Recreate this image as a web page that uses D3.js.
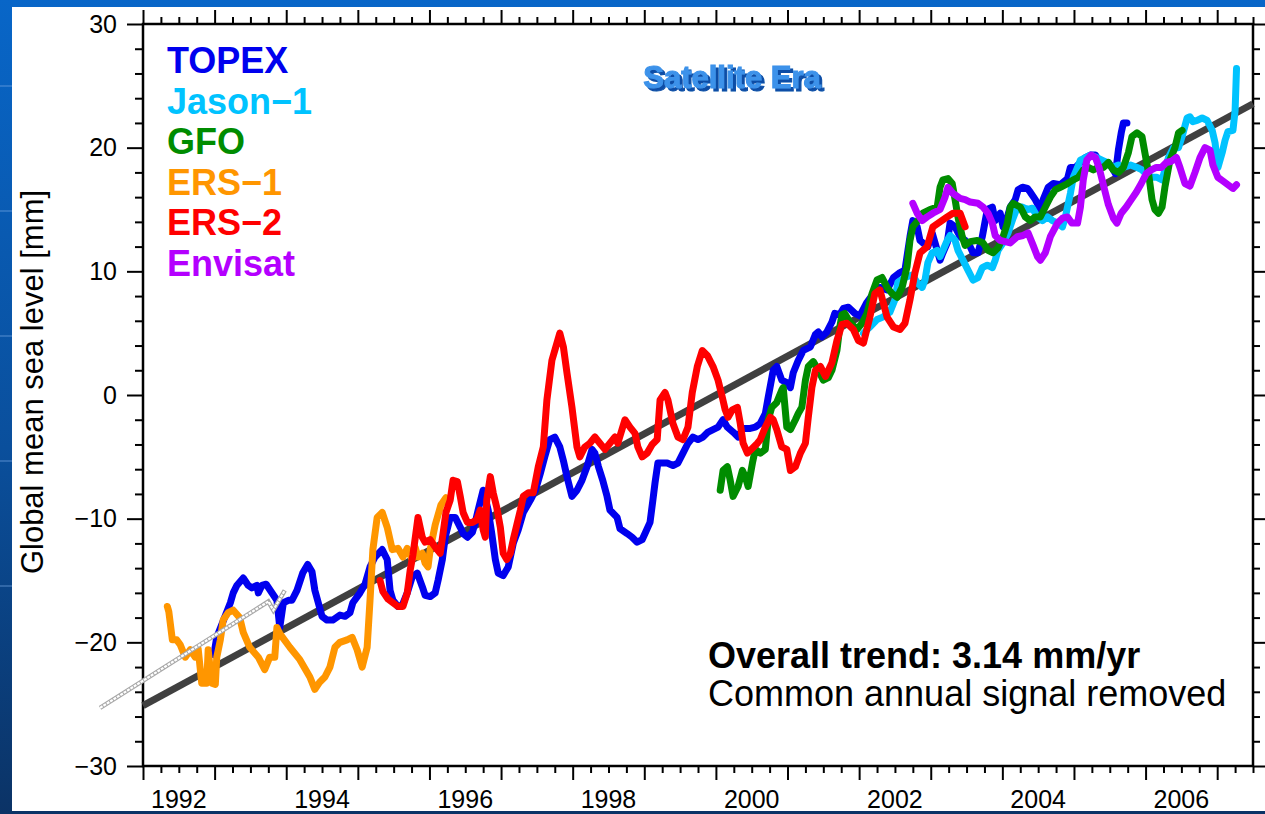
<!DOCTYPE html>
<html><head><meta charset="utf-8">
<script src="https://cdn.jsdelivr.net/npm/d3@7"></script>
<style>html,body{margin:0;padding:0;overflow:hidden;background:#0a5cbf}</style>
</head><body><svg id="c" width="1265" height="814"></svg>
<script>
// ---------------- data (decimal year, mm) ----------------
const topex = [[1992.99,-21.0],[1993.03,-19.6],[1993.22,-16.8],[1993.26,-16.0],[1993.31,-15.4],[1993.40,-14.8],[1993.47,-15.4],[1993.52,-15.6],[1993.59,-15.4],[1993.61,-16.0],[1993.66,-15.4],[1993.72,-15.3],[1993.87,-16.6],[1993.91,-18.8],[1993.96,-16.8],[1994.03,-16.6],[1994.08,-16.6],[1994.15,-15.8],[1994.23,-14.4],[1994.30,-13.7],[1994.36,-14.3],[1994.40,-15.8],[1994.50,-17.9],[1994.57,-18.2],[1994.65,-18.2],[1994.75,-17.8],[1994.82,-17.9],[1994.89,-17.6],[1994.93,-16.8],[1995.03,-16.0],[1995.10,-15.3],[1995.17,-13.9],[1995.24,-13.1],[1995.34,-12.5],[1995.41,-13.3],[1995.45,-15.8],[1995.49,-16.6],[1995.56,-17.1],[1995.62,-17.0],[1995.69,-16.0],[1995.76,-14.7],[1995.83,-14.4],[1995.90,-15.5],[1995.94,-16.2],[1996.01,-16.3],[1996.08,-16.0],[1996.12,-15.0],[1996.18,-13.3],[1996.22,-11.5],[1996.29,-9.9],[1996.36,-9.9],[1996.43,-10.7],[1996.47,-11.2],[1996.53,-11.5],[1996.60,-11.1],[1996.64,-10.3],[1996.68,-9.3],[1996.75,-7.7],[1996.82,-9.3],[1996.87,-11.2],[1996.92,-13.3],[1996.96,-14.4],[1997.03,-14.6],[1997.10,-13.9],[1997.17,-12.0],[1997.24,-10.9],[1997.31,-9.5],[1997.41,-8.5],[1997.48,-7.7],[1997.55,-6.3],[1997.61,-5.0],[1997.68,-3.6],[1997.75,-3.4],[1997.82,-4.2],[1997.87,-5.3],[1997.92,-6.6],[1997.99,-8.2],[1998.06,-7.7],[1998.13,-6.9],[1998.20,-5.8],[1998.27,-4.4],[1998.31,-4.7],[1998.36,-5.8],[1998.42,-6.9],[1998.48,-8.2],[1998.52,-9.3],[1998.62,-9.9],[1998.66,-10.8],[1998.76,-11.2],[1998.83,-11.5],[1998.90,-11.9],[1998.97,-11.7],[1999.01,-11.2],[1999.08,-10.3],[1999.12,-8.5],[1999.15,-7.1],[1999.19,-5.5],[1999.32,-5.5],[1999.40,-5.7],[1999.47,-5.5],[1999.54,-4.7],[1999.61,-3.9],[1999.68,-3.4],[1999.75,-3.6],[1999.82,-3.4],[1999.89,-3.0],[1999.96,-2.8],[2000.03,-2.6],[2000.10,-2.0],[2000.16,-2.6],[2000.24,-3.0],[2000.31,-3.4],[2000.38,-2.7],[2000.48,-2.7],[2000.55,-2.6],[2000.62,-2.3],[2000.69,-1.5],[2000.73,-0.2],[2000.80,2.0],[2000.85,2.3],[2000.92,1.2],[2000.99,1.0],[2001.04,0.6],[2001.08,1.8],[2001.15,2.8],[2001.22,3.6],[2001.32,3.9],[2001.39,4.9],[2001.43,5.1],[2001.48,4.7],[2001.55,5.1],[2001.62,5.9],[2001.66,6.6],[2001.73,6.5],[2001.78,7.0],[2001.85,7.1],[2001.94,6.6],[2002.01,6.4],[2002.11,7.5],[2002.20,8.2],[2002.29,8.7],[2002.39,8.5],[2002.48,9.5],[2002.57,9.9],[2002.64,10.1],[2002.71,12.8],[2002.75,14.1],[2002.81,13.6],[2002.85,12.5],[2002.89,12.3],[2002.96,12.0],[2003.02,13.1],[2003.09,11.7],[2003.13,10.9],[2003.17,11.5],[2003.23,12.3],[2003.27,13.9],[2003.34,13.6],[2003.41,12.8],[2003.48,12.5],[2003.55,12.0],[2003.59,11.5],[2003.66,11.5],[2003.72,12.8],[2003.79,15.0],[2003.86,15.2],[2003.90,14.1],[2003.97,14.7],[2004.01,13.6],[2004.07,14.4],[2004.11,15.2],[2004.18,15.8],[2004.22,16.6],[2004.28,16.8],[2004.35,16.7],[2004.39,16.4],[2004.46,15.8],[2004.53,15.0],[2004.57,15.8],[2004.64,16.8],[2004.71,17.1],[2004.81,17.0],[2004.91,17.5],[2004.95,18.4],[2005.02,18.4],[2005.09,18.8],[2005.16,19.2],[2005.23,19.4],[2005.30,19.4],[2005.34,19.0],[2005.41,18.8],[2005.48,18.8],[2005.53,18.4],[2005.58,17.9],[2005.62,19.8],[2005.66,21.2],[2005.69,22.0],[2005.74,22.0]];

const jason1 = [[2002.06,5.0],[2002.15,5.5],[2002.25,6.1],[2002.33,6.3],[2002.43,6.7],[2002.50,7.7],[2002.54,9.1],[2002.64,9.5],[2002.74,9.7],[2002.81,9.1],[2002.88,8.7],[2002.92,9.3],[2002.96,10.7],[2003.02,11.5],[2003.09,11.7],[2003.13,11.2],[2003.17,11.7],[2003.23,12.5],[2003.27,12.9],[2003.34,12.5],[2003.38,11.7],[2003.45,10.9],[2003.52,10.1],[2003.59,9.3],[2003.66,9.5],[2003.72,10.3],[2003.79,10.5],[2003.86,10.3],[2003.90,10.9],[2003.94,11.7],[2004.01,12.3],[2004.08,13.1],[2004.15,14.3],[2004.21,15.2],[2004.28,15.2],[2004.35,15.0],[2004.42,15.1],[2004.49,14.4],[2004.56,14.1],[2004.63,14.4],[2004.70,14.1],[2004.77,13.9],[2004.84,13.6],[2004.88,14.4],[2004.95,16.3],[2004.99,17.6],[2005.05,18.4],[2005.09,19.0],[2005.16,19.2],[2005.23,19.4],[2005.32,19.2],[2005.39,19.0],[2005.46,18.8],[2005.53,18.4],[2005.62,18.6],[2005.69,18.4],[2005.79,18.6],[2005.88,18.4],[2005.95,18.2],[2006.02,17.8],[2006.09,17.6],[2006.16,17.6],[2006.23,17.4],[2006.27,18.2],[2006.32,19.2],[2006.39,20.0],[2006.46,20.0],[2006.51,20.9],[2006.58,22.4],[2006.62,22.5],[2006.66,22.1],[2006.72,22.2],[2006.79,22.4],[2006.86,22.2],[2006.93,21.4],[2006.97,20.4],[2007.01,18.4],[2007.07,19.6],[2007.11,20.6],[2007.15,21.3],[2007.22,21.4],[2007.25,23.0],[2007.27,26.4]];

const gfo = [[2000.06,-7.7],[2000.10,-6.1],[2000.16,-5.8],[2000.20,-6.9],[2000.24,-8.2],[2000.31,-7.4],[2000.37,-6.1],[2000.41,-6.6],[2000.45,-7.4],[2000.51,-5.5],[2000.55,-4.4],[2000.62,-4.7],[2000.69,-4.4],[2000.73,-2.0],[2000.78,-1.0],[2000.85,-0.6],[2000.92,0.4],[2000.94,0.6],[2000.99,-2.6],[2001.04,-2.8],[2001.11,-2.0],[2001.15,-1.5],[2001.20,-1.0],[2001.25,1.2],[2001.29,2.3],[2001.36,2.7],[2001.43,2.0],[2001.50,1.2],[2001.57,1.4],[2001.62,2.0],[2001.69,3.6],[2001.73,5.5],[2001.76,6.5],[2001.80,6.6],[2001.87,5.9],[2001.97,5.3],[2002.04,5.8],[2002.11,6.6],[2002.18,8.2],[2002.25,9.3],[2002.32,9.5],[2002.39,8.7],[2002.46,8.2],[2002.53,7.9],[2002.60,8.7],[2002.67,10.4],[2002.71,12.5],[2002.75,13.6],[2002.82,14.1],[2002.89,14.7],[2002.99,15.0],[2003.09,15.2],[2003.13,16.8],[2003.17,17.4],[2003.24,17.5],[2003.30,17.1],[2003.34,15.8],[2003.38,14.4],[2003.44,12.8],[2003.48,12.1],[2003.55,12.4],[2003.65,12.5],[2003.73,12.3],[2003.80,11.7],[2003.87,11.5],[2003.94,11.9],[2004.01,12.8],[2004.07,13.9],[2004.11,15.2],[2004.15,15.5],[2004.25,15.2],[2004.32,14.4],[2004.39,14.1],[2004.46,14.4],[2004.53,14.4],[2004.60,15.2],[2004.67,16.0],[2004.74,16.6],[2004.81,16.8],[2004.91,17.1],[2004.99,17.4],[2005.06,17.6],[2005.13,18.2],[2005.20,18.4],[2005.27,18.2],[2005.34,18.4],[2005.41,18.4],[2005.48,18.8],[2005.55,18.2],[2005.62,18.0],[2005.69,18.4],[2005.76,19.6],[2005.81,20.9],[2005.88,21.2],[2005.95,20.9],[2005.99,19.6],[2006.04,18.0],[2006.09,15.8],[2006.13,15.0],[2006.18,14.7],[2006.23,15.2],[2006.27,16.8],[2006.34,19.0],[2006.41,20.0],[2006.46,21.2],[2006.51,21.4]];

const ers1 = [[1992.34,-17.1],[1992.36,-17.5],[1992.41,-19.8],[1992.47,-19.8],[1992.52,-20.2],[1992.59,-21.2],[1992.66,-20.6],[1992.73,-21.2],[1992.77,-20.5],[1992.82,-23.3],[1992.89,-23.3],[1992.91,-20.6],[1992.96,-23.3],[1993.01,-23.4],[1993.03,-21.2],[1993.08,-19.8],[1993.12,-18.2],[1993.19,-17.6],[1993.26,-17.4],[1993.35,-18.0],[1993.40,-19.2],[1993.49,-20.4],[1993.61,-21.2],[1993.70,-22.2],[1993.77,-21.2],[1993.84,-21.2],[1993.87,-18.8],[1993.91,-19.3],[1994.05,-20.4],[1994.19,-21.4],[1994.33,-22.8],[1994.40,-23.8],[1994.47,-23.2],[1994.54,-22.8],[1994.61,-22.0],[1994.68,-20.4],[1994.75,-20.0],[1994.85,-19.8],[1994.92,-19.6],[1994.99,-20.6],[1995.06,-22.0],[1995.13,-20.4],[1995.17,-16.6],[1995.21,-12.5],[1995.27,-9.9],[1995.34,-9.5],[1995.41,-10.7],[1995.48,-12.5],[1995.56,-12.4],[1995.63,-13.1],[1995.69,-12.4],[1995.76,-13.3],[1995.80,-12.3],[1995.84,-13.1],[1995.90,-12.8],[1995.94,-13.6],[1995.98,-13.9],[1996.01,-12.5],[1996.08,-10.5],[1996.16,-8.9],[1996.23,-8.3]];

const ers2 = [[1995.31,-15.0],[1995.35,-15.9],[1995.42,-16.5],[1995.49,-16.8],[1995.56,-17.1],[1995.63,-17.1],[1995.69,-16.0],[1995.73,-14.2],[1995.77,-12.9],[1995.81,-11.2],[1995.84,-9.9],[1995.90,-11.5],[1995.94,-11.9],[1996.01,-11.7],[1996.08,-12.3],[1996.15,-12.8],[1996.19,-11.2],[1996.23,-9.5],[1996.29,-8.5],[1996.33,-6.9],[1996.39,-7.0],[1996.43,-8.2],[1996.47,-9.5],[1996.53,-10.3],[1996.60,-10.3],[1996.66,-10.1],[1996.71,-9.3],[1996.75,-10.9],[1996.78,-11.5],[1996.80,-8.5],[1996.85,-6.6],[1996.89,-7.9],[1996.94,-9.1],[1996.99,-10.7],[1997.03,-12.8],[1997.08,-13.3],[1997.13,-12.8],[1997.17,-11.7],[1997.22,-10.5],[1997.27,-9.3],[1997.31,-8.2],[1997.38,-7.9],[1997.45,-7.9],[1997.52,-5.8],[1997.59,-4.2],[1997.64,-0.4],[1997.71,2.8],[1997.75,3.6],[1997.82,5.0],[1997.87,3.9],[1997.92,1.8],[1997.99,-1.0],[1998.06,-4.2],[1998.10,-5.0],[1998.17,-4.2],[1998.24,-3.9],[1998.31,-3.4],[1998.38,-3.9],[1998.45,-4.4],[1998.52,-3.9],[1998.59,-3.4],[1998.63,-3.9],[1998.73,-2.0],[1998.80,-2.6],[1998.87,-3.1],[1998.91,-4.2],[1998.97,-5.0],[1999.04,-4.7],[1999.11,-4.0],[1999.18,-3.6],[1999.22,-0.4],[1999.29,0.2],[1999.33,-0.4],[1999.40,-2.3],[1999.47,-3.4],[1999.54,-3.6],[1999.61,-2.6],[1999.67,0.2],[1999.74,2.3],[1999.81,3.6],[1999.88,3.2],[1999.96,2.3],[2000.03,1.2],[2000.09,-0.2],[2000.13,-1.2],[2000.17,-1.8],[2000.23,-1.2],[2000.30,-1.0],[2000.34,-2.3],[2000.38,-3.9],[2000.44,-4.7],[2000.51,-4.3],[2000.58,-3.9],[2000.62,-3.6],[2000.69,-2.6],[2000.76,-1.8],[2000.80,-2.0],[2000.85,-2.8],[2000.92,-4.2],[2000.99,-4.4],[2001.04,-6.1],[2001.11,-5.8],[2001.18,-4.7],[2001.25,-3.9],[2001.29,-1.8],[2001.34,0.6],[2001.39,2.0],[2001.46,2.3],[2001.53,1.5],[2001.62,2.6],[2001.69,4.4],[2001.76,5.7],[2001.83,5.8],[2001.92,5.3],[2001.99,4.4],[2002.06,4.2],[2002.15,6.3],[2002.22,8.2],[2002.29,8.5],[2002.39,6.3],[2002.48,5.5],[2002.57,5.3],[2002.64,5.8],[2002.71,7.7],[2002.78,9.9],[2002.85,11.5],[2002.95,12.0],[2003.03,13.6],[2003.13,14.0],[2003.23,14.4],[2003.31,14.7],[2003.41,14.7],[2003.48,13.6]];

const envisat = [[2002.75,15.5],[2002.81,14.7],[2002.88,14.1],[2002.95,14.4],[2003.03,14.7],[2003.13,15.0],[2003.20,16.0],[2003.24,16.8],[2003.31,16.3],[2003.41,15.9],[2003.48,15.8],[2003.55,15.6],[2003.66,15.5],[2003.73,15.2],[2003.80,14.7],[2003.86,13.9],[2003.90,12.9],[2003.97,12.5],[2004.04,12.4],[2004.11,12.3],[2004.21,12.8],[2004.29,12.9],[2004.36,13.1],[2004.43,12.1],[2004.49,11.2],[2004.53,10.9],[2004.60,11.5],[2004.67,12.8],[2004.77,13.9],[2004.84,14.3],[2004.91,14.4],[2004.97,13.9],[2005.05,13.9],[2005.09,15.2],[2005.13,17.4],[2005.18,19.0],[2005.24,19.4],[2005.30,19.2],[2005.35,18.4],[2005.41,17.0],[2005.48,15.4],[2005.55,14.3],[2005.60,13.9],[2005.66,14.7],[2005.73,15.2],[2005.80,15.8],[2005.87,16.4],[2005.94,17.1],[2006.01,17.9],[2006.08,18.2],[2006.15,18.4],[2006.22,18.4],[2006.29,18.8],[2006.36,18.9],[2006.43,19.2],[2006.48,18.4],[2006.55,17.1],[2006.62,16.9],[2006.69,18.0],[2006.76,19.2],[2006.83,20.0],[2006.90,19.8],[2006.94,18.6],[2007.01,17.6],[2007.08,17.3],[2007.15,17.0],[2007.22,16.7],[2007.27,17.0]];

const seriesNames = ["TOPEX", "Jason\u22121", "GFO", "ERS\u22121", "ERS\u22122", "Envisat"];
const seriesColors = ["#0000ee", "#00c3ff", "#008c00", "#ff9600", "#ff0000", "#b400ff"];
const seriesData = [topex, jason1, gfo, ers1, ers2, envisat];

const trendRate = 3.14;        // mm/yr
const trendRefYear = 2000;     // year at which trend = 0
const trendSpan = [1992, 2007.5];
const sketchLine = [[1991.40,-25.3],[1993.75,-16.7],[1993.82,-17.4],[1993.98,-15.8]];

const yMajor = [-30,-20,-10,0,10,20,30];
const yearLabels = [1992,1994,1996,1998,2000,2002,2004,2006];

// ---------------- drawing ----------------
const svg = d3.select("#c");
const W = 1265, H = 814;
const FONT = "'Liberation Sans', Arial, Helvetica, sans-serif";

const defs = svg.append("defs");
const g1 = defs.append("linearGradient").attr("id","bg").attr("x1",0).attr("y1",0).attr("x2",0).attr("y2",1);
g1.append("stop").attr("offset","0%").attr("stop-color","#0866c8");
g1.append("stop").attr("offset","55%").attr("stop-color","#0a4f9c");
g1.append("stop").attr("offset","100%").attr("stop-color","#0b3366");
// 3-D shadow for the "Satellite Era" title
const f = defs.append("filter").attr("id","shadow3d").attr("x","-10%").attr("y","-30%").attr("width","120%").attr("height","160%");
f.append("feOffset").attr("in","SourceAlpha").attr("dx",2.5).attr("dy",2.5).attr("result","off");
f.append("feFlood").attr("flood-color","#0b4ea6").attr("result","col");
f.append("feComposite").attr("in","col").attr("in2","off").attr("operator","in").attr("result","sh");
const fm = f.append("feMerge");
fm.append("feMergeNode").attr("in","sh");
fm.append("feMergeNode").attr("in","SourceGraphic");

svg.append("rect").attr("width",W).attr("height",H).attr("fill","url(#bg)");
[85,210,335,460,585].forEach(v => svg.append("rect").attr("x",0).attr("y",v).attr("width",12).attr("height",2).attr("fill","rgba(120,170,230,0.35)"));
svg.append("rect").attr("x",12).attr("y",7).attr("width",W-12).attr("height",811-7).attr("fill","#ffffff");

const x = d3.scaleLinear().domain([1992, 2007.5]).range([143, 1253]);
const y = d3.scaleLinear().domain([-30, 30]).range([766, 24]);

const fmt = d => d < 0 ? "\u2212" + Math.abs(d) : String(d);
const yMinor = d3.range(-30, 31, 2).filter(v => v % 10 !== 0);
const xMajor = d3.range(1992, 2008, 1);
const xMinor = d3.range(1992, 2007.5001, 0.25).filter(v => Math.abs(v - Math.round(v)) > 1e-6);

function styleAxis(g) {
  g.select(".domain").remove();
  g.selectAll("line").attr("stroke", "#000").attr("stroke-width", 2);
  g.selectAll("text").attr("font-family", FONT).attr("font-size", 25).attr("fill", "#000");
}
// left
svg.append("g").attr("transform","translate(143,0)")
  .call(d3.axisLeft(y).tickValues(yMajor).tickSize(16).tickPadding(10).tickFormat(fmt)).call(styleAxis);
svg.append("g").attr("transform","translate(143,0)")
  .call(d3.axisLeft(y).tickValues(yMinor).tickSize(8).tickFormat("")).call(styleAxis);
// right
svg.append("g").attr("transform","translate(1253,0)")
  .call(d3.axisRight(y).tickValues(yMajor).tickSize(14).tickFormat("")).call(styleAxis);
svg.append("g").attr("transform","translate(1253,0)")
  .call(d3.axisRight(y).tickValues(yMinor).tickSize(7).tickFormat("")).call(styleAxis);
// bottom
svg.append("g").attr("transform","translate(0,766)")
  .call(d3.axisBottom(x).tickValues(xMajor).tickSize(14).tickFormat("")).call(styleAxis);
svg.append("g").attr("transform","translate(0,766)")
  .call(d3.axisBottom(x).tickValues(xMinor).tickSize(7).tickFormat("")).call(styleAxis);
// top
svg.append("g").attr("transform","translate(0,24)")
  .call(d3.axisTop(x).tickValues(xMajor).tickSize(14).tickFormat("")).call(styleAxis);
svg.append("g").attr("transform","translate(0,24)")
  .call(d3.axisTop(x).tickValues(xMinor).tickSize(7).tickFormat("")).call(styleAxis);

// year labels, centred in the year interval
svg.append("g").selectAll("text").data(yearLabels).join("text")
  .attr("x", d => x(d + 0.5)).attr("y", 808)
  .attr("text-anchor","middle").attr("font-family",FONT).attr("font-size",25).attr("fill","#000")
  .text(d => d);

// frame
svg.append("rect").attr("x",143).attr("y",24).attr("width",1253-143).attr("height",766-24)
  .attr("fill","none").attr("stroke","#000").attr("stroke-width",2.5);

// y title
svg.append("text").attr("transform","translate(43,382) rotate(-90)")
  .attr("text-anchor","middle").attr("font-family",FONT).attr("font-size",31).attr("fill","#000")
  .text("Global mean sea level [mm]");

// trend line
svg.append("line")
  .attr("x1", x(trendSpan[0])).attr("y1", y(trendRate*(trendSpan[0]-trendRefYear)))
  .attr("x2", x(trendSpan[1])).attr("y2", y(trendRate*(trendSpan[1]-trendRefYear)))
  .attr("stroke","#404040").attr("stroke-width",7);

// series
const line = d3.line().x(d => x(d[0])).y(d => y(d[1]));
svg.append("g").selectAll("path").data(seriesData).join("path")
  .attr("d", line).attr("fill","none")
  .attr("stroke", (d,i) => seriesColors[i]).attr("stroke-width", 7)
  .attr("stroke-linejoin","round").attr("stroke-linecap","round");

// sketch artefact
svg.append("path").attr("d", line(sketchLine)).attr("fill","none")
  .attr("stroke","#a8a8a8").attr("stroke-width",4.5).attr("stroke-linejoin","miter");
svg.append("path").attr("d", line(sketchLine)).attr("fill","none")
  .attr("stroke","#ffffff").attr("stroke-width",2.2).attr("stroke-dasharray","3 1");

// legend
svg.append("g").selectAll("text").data(seriesNames).join("text")
  .attr("x", 167).attr("y", (d,i) => 73 + i*40.6)
  .attr("font-family",FONT).attr("font-weight","bold").attr("font-size",36)
  .attr("fill", (d,i) => seriesColors[i]).text(d => d);

// Satellite Era (single text with 3-D shadow filter)
svg.append("text").attr("x",732).attr("y",88).attr("text-anchor","middle")
  .attr("font-family",FONT).attr("font-weight","bold").attr("font-size",31)
  .attr("fill","#3c92ea").attr("stroke","#3c92ea").attr("stroke-width",1.1)
  .attr("filter","url(#shadow3d)").text("Satellite Era");

// annotations
svg.append("text").attr("x",708).attr("y",668).attr("font-family",FONT).attr("font-weight","bold")
  .attr("font-size",36).attr("fill","#000").text("Overall trend: " + trendRate.toFixed(2) + " mm/yr");
svg.append("text").attr("x",708).attr("y",706).attr("font-family",FONT)
  .attr("font-size",36).attr("fill","#000").text("Common annual signal removed");
</script>
</body></html>
